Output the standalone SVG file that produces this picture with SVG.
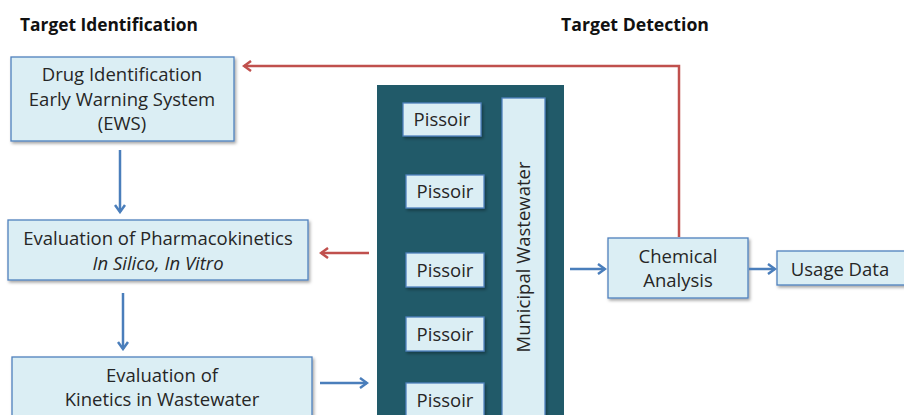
<svg xmlns="http://www.w3.org/2000/svg" width="904" height="415" viewBox="0 0 904 415">
<style>
.box{fill:#dbeef4;stroke:#4f81bd;stroke-width:1.3;filter:url(#sh)}
.t{font-family:"Open Sans","Noto Sans",sans-serif;font-size:18.5px;fill:#262626;text-anchor:middle}
.h{font-family:"Open Sans","Noto Sans",sans-serif;font-size:17px;font-weight:bold;fill:#111}
.b{stroke:#4a7ebb;stroke-width:2.5;fill:none}
.r{stroke:#c0504d;stroke-width:2.5;fill:none}
</style>
<defs>
<filter id="sh" x="-10%" y="-10%" width="130%" height="140%">
<feDropShadow dx="1.5" dy="2" stdDeviation="1.5" flood-color="#000" flood-opacity="0.35"/>
</filter>
<marker id="ab" markerWidth="10" markerHeight="12" refX="8" refY="6" orient="auto" markerUnits="userSpaceOnUse">
<path d="M1,1 L8,6 L1,11" fill="none" stroke="#4a7ebb" stroke-width="2.5" stroke-linejoin="miter"/>
</marker>
<marker id="ar" markerWidth="10" markerHeight="12" refX="8" refY="6" orient="auto" markerUnits="userSpaceOnUse">
<path d="M1,1 L8,6 L1,11" fill="none" stroke="#c0504d" stroke-width="2.5"/>
</marker>
</defs>
<rect width="904" height="415" fill="#fff"/>
<text class="h" x="20" y="31" textLength="178" lengthAdjust="spacingAndGlyphs">Target Identification</text>
<text class="h" x="561" y="31" textLength="148" lengthAdjust="spacingAndGlyphs">Target Detection</text>

<g id="panel">
<rect x="377" y="85" width="187" height="335" fill="#215a69"/>
</g>
<g id="ews">
<rect class="box" x="11" y="57" width="223" height="84"/>
<text class="t" x="122" y="81">Drug Identification</text>
<text class="t" x="122" y="106">Early Warning System</text>
<text class="t" x="122" y="130">(EWS)</text>
</g>
<g id="pk">
<rect class="box" x="8" y="220" width="300" height="60"/>
<text class="t" x="158" y="245">Evaluation of Pharmacokinetics</text>
<text class="t" x="158" y="270" font-style="italic">In Silico, In Vitro</text>
</g>
<g id="kw">
<rect class="box" x="12" y="357" width="300" height="70"/>
<text class="t" x="162" y="382">Evaluation of</text>
<text class="t" x="162" y="406">Kinetics in Wastewater</text>
</g>
<g id="p1"><rect class="box" x="403" y="103" width="78" height="33"/><text class="t" x="442" y="126">Pissoir</text></g>
<g id="p2"><rect class="box" x="406" y="175" width="78" height="33"/><text class="t" x="445" y="198">Pissoir</text></g>
<g id="p3"><rect class="box" x="406" y="253" width="78" height="34"/><text class="t" x="445" y="277">Pissoir</text></g>
<g id="p4"><rect class="box" x="406" y="317" width="78" height="34"/><text class="t" x="445" y="341">Pissoir</text></g>
<g id="p5"><rect class="box" x="406" y="383" width="78" height="40"/><text class="t" x="445" y="407">Pissoir</text></g>
<g id="mw">
<rect class="box" x="502" y="98" width="43" height="330"/>
<text class="t" transform="translate(530,257) rotate(-90)">Municipal Wastewater</text>
</g>
<g id="ca">
<rect class="box" x="608" y="238" width="140" height="60"/>
<text class="t" x="678" y="263">Chemical</text>
<text class="t" x="678" y="287">Analysis</text>
</g>
<g id="ud">
<rect class="box" x="777" y="251" width="130" height="34"/>
<text class="t" x="840" y="276">Usage Data</text>
</g>
<g id="connectors">
<path class="b" d="M120,150 L120,212" marker-end="url(#ab)"/>
<path class="b" d="M123,293 L123,349" marker-end="url(#ab)"/>
<path class="b" d="M320,383 L367,383" marker-end="url(#ab)"/>
<path class="b" d="M570,269 L605,269" marker-end="url(#ab)"/>
<path class="b" d="M749,269 L775,269" marker-end="url(#ab)"/>
<path class="r" d="M369,253 L321,253" marker-end="url(#ar)"/>
<path class="r" d="M679,237 L679,66 L244,66" marker-end="url(#ar)"/>
</g>
</svg>
